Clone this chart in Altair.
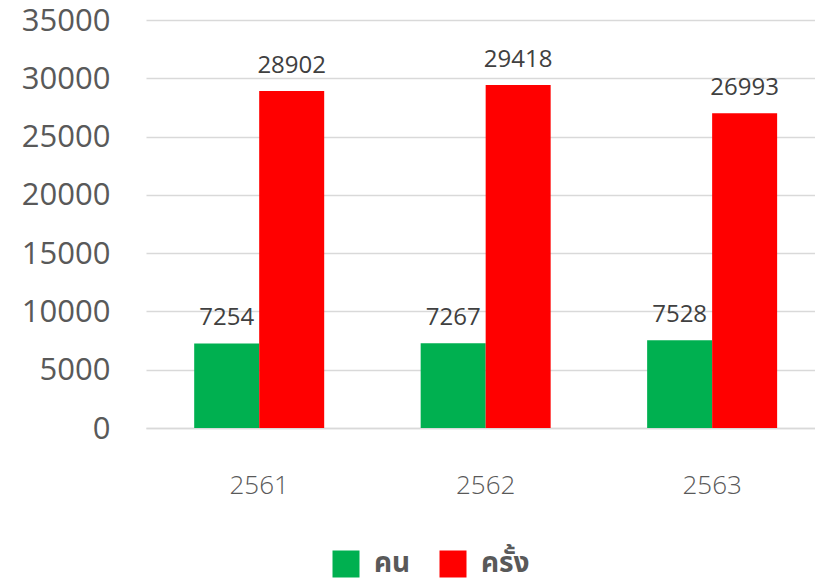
import altair as alt
import pandas as pd

years = ["2561", "2562", "2563"]
series = ["คน", "ครั้ง"]
persons = [7254, 7267, 7528]
times = [28902, 29418, 26993]
colors = ["#00B050", "#FF0000"]

rows = []
for i, y in enumerate(years):
    rows.append({"year": y, "series": series[0], "value": persons[i], "order": 0})
    rows.append({"year": y, "series": series[1], "value": times[i], "order": 1})
df = pd.DataFrame(rows)

FONT = "Open Sans"

x_enc = alt.X(
    "year:N",
    sort=years,
    title=None,
    scale=alt.Scale(paddingInner=0.426, paddingOuter=0.19, align=0.56),
    axis=alt.Axis(
        labelAngle=0,
        labelFont=FONT,
        labelFontSize=26,
        labelFontWeight=300,
        labelColor="#595959",
        labelPadding=44,
        ticks=False,
        domainColor="#D9D9D9",
        domainWidth=1.3,
    ),
)
xoff = alt.XOffset("series:N", sort=series, scale=alt.Scale(paddingInner=0, paddingOuter=0))
y_enc = alt.Y(
    "value:Q",
    title=None,
    scale=alt.Scale(domain=[0, 35000], nice=False),
    axis=alt.Axis(
        values=list(range(0, 35001, 5000)),
        format="d",
        labelFont=FONT,
        labelFontSize=31,
        labelColor="#595959",
        labelPadding=36,
        labelBaseline="middle",
        labelOffset=1,
        ticks=False,
        domain=False,
        gridColor="#D9D9D9",
        gridWidth=1.3,
    ),
)

bars = alt.Chart(df).mark_bar().encode(
    x=x_enc,
    xOffset=xoff,
    y=y_enc,
    color=alt.Color(
        "series:N",
        sort=series,
        scale=alt.Scale(domain=series, range=colors),
        legend=alt.Legend(
            title=None,
            orient="none",
            direction="horizontal",
            legendX=186,
            legendY=530,
            symbolType="square",
            symbolSize=729,
            symbolStrokeWidth=0,
            labelFont="Noto Sans Thai, Tahoma, Leelawadee UI, sans-serif",
            labelFontSize=28,
            labelFontWeight="bold",
            labelColor="#595959",
            labelOffset=14,
            columnPadding=28,
        ),
    ),
)

labels = alt.Chart(df).mark_text(
    font=FONT, fontSize=24, color="#404040", baseline="alphabetic", dy=-18
).encode(
    x=alt.X("year:N", sort=years),
    xOffset=alt.XOffset("series:N", sort=series),
    y="value:Q",
    text="value:Q",
)

chart = (
    alt.layer(bars, labels)
    .properties(
        width=669,
        height=408,
        autosize=alt.AutoSizeParams(type="none"),
        padding={"left": 138, "top": 12, "right": 0, "bottom": 152},
    )
    .configure_view(stroke=None)
    .configure_axis(grid=True)
    .configure_axisX(grid=False)
)

chart.save("out.html", embed_options={"renderer": "svg", "actions": False})
